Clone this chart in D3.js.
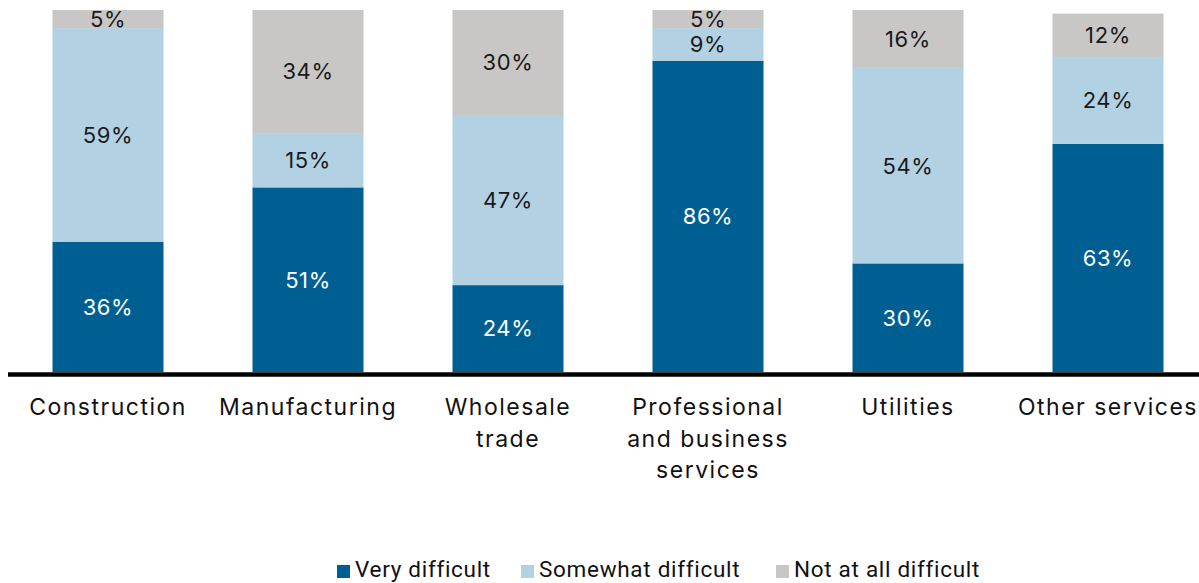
<!DOCTYPE html>
<html><head><meta charset="utf-8">
<script src="https://cdn.jsdelivr.net/npm/d3@7"></script>
<style>body{margin:0;background:#fff}svg{display:block}</style>
</head><body>
<svg id="c" width="1199" height="583"></svg>
<script>
const categories = ["Construction","Manufacturing","Wholesale trade","Professional and business services","Utilities","Other services"];
const categoryLines = [["Construction"],["Manufacturing"],["Wholesale","trade"],["Professional","and business","services"],["Utilities"],["Other services"]];
const seriesNames = ["Very difficult","Somewhat difficult","Not at all difficult"];
const veryDifficult = [36,51,24,86,30,63];
const somewhatDifficult = [59,15,47,9,54,24];
const notAtAllDifficult = [5,34,30,5,16,12];
const colors = ["#005F92","#B2D1E3","#C8C7C6"];
const textColors = ["#ffffff","#1a1a1a","#1a1a1a"];

const svg = d3.select("#c");
const x = d3.scaleBand().domain(categories).range([8,1208]).paddingInner(0.445).paddingOuter(0.2225);
const y = d3.scaleLinear().domain([0,100]).range([372,10]);

const rows = categories.map((c,i)=>({cat:c, [seriesNames[0]]:veryDifficult[i], [seriesNames[1]]:somewhatDifficult[i], [seriesNames[2]]:notAtAllDifficult[i]}));
const stack = d3.stack().keys(seriesNames)(rows);

svg.append("clipPath").attr("id","clip").append("rect").attr("x",0).attr("y",y(100)).attr("width",1199).attr("height",y(0)-y(100)+2);

const g = svg.append("g").attr("clip-path","url(#clip)");
stack.forEach((s,si)=>{
  g.selectAll(null).data(s).enter().append("rect")
    .attr("x",d=>x(d.data.cat)).attr("width",x.bandwidth())
    .attr("y",d=>y(d[1])).attr("height",d=>y(d[0])-y(d[1]))
    .attr("fill",colors[si]);
});
stack.forEach((s,si)=>{
  svg.selectAll(null).data(s).enter().append("text")
    .attr("x",d=>x(d.data.cat)+x.bandwidth()/2)
    .attr("y",d=>(y(d[0])+Math.max(y(d[1]),y(100)))/2)
    .attr("dy","0.36em").attr("text-anchor","middle")
    .attr("font-family","Inter, 'Open Sans', sans-serif").attr("font-size",22)
    .attr("letter-spacing","0.6px")
    .attr("fill",textColors[si])
    .text(d=>(d[1]-d[0])+"%");
});

// axis
const axis = svg.append("g").attr("transform","translate(0,374.5)")
  .call(d3.axisBottom(x).tickSize(0).tickFormat(""));
axis.select(".domain").attr("d","M8,0H1199").attr("stroke","#000").attr("stroke-width",4.5);

categoryLines.forEach((lines,i)=>{
  const t = svg.append("text").attr("text-anchor","middle")
    .attr("font-family","Inter, 'Open Sans', sans-serif").attr("font-size",23)
    .attr("letter-spacing","1.5px").attr("fill","#111");
  lines.forEach((l,j)=>{
    t.append("tspan").attr("x",x(categories[i])+x.bandwidth()/2).attr("y",415+j*31.5).text(l);
  });
});

// legend
const legendX = [337,521,776];
const lg = svg.append("g");
seriesNames.forEach((n,i)=>{
  lg.append("rect").attr("x",legendX[i]).attr("y",565).attr("width",13).attr("height",13).attr("fill",colors[i]);
  lg.append("text").attr("x",legendX[i]+18).attr("y",577)
    .attr("font-family","Roboto, sans-serif").attr("font-size",22.5).attr("letter-spacing","0.7px")
    .attr("fill","#111").text(n);
});
</script>
</body></html>
